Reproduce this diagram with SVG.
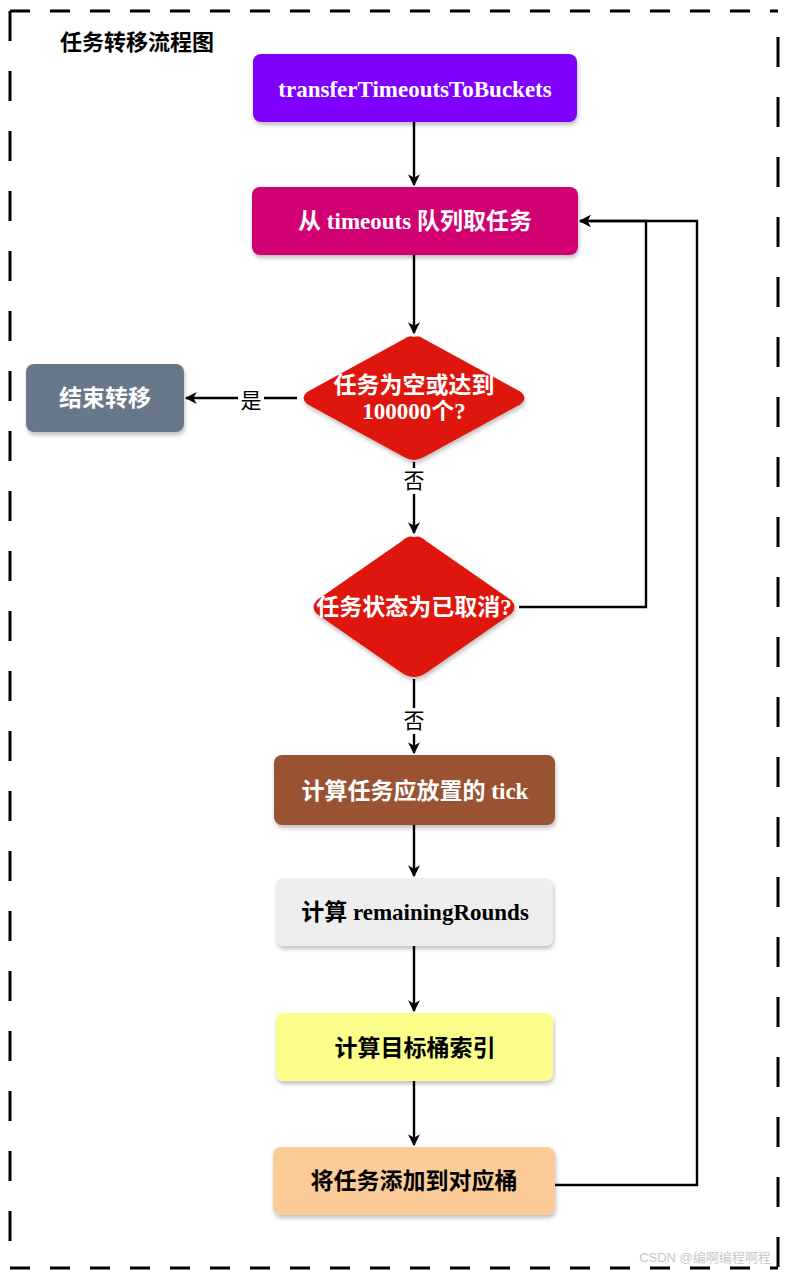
<svg xmlns="http://www.w3.org/2000/svg" width="794" height="1274" viewBox="0 0 794 1274">
<defs>
<filter id="sh" x="-10%" y="-10%" width="130%" height="140%">
<feDropShadow dx="1" dy="3" stdDeviation="2" flood-color="#000" flood-opacity="0.25"/>
</filter>
<marker id="ah" viewBox="0 0 10 10" refX="9" refY="5" markerWidth="12" markerHeight="12" markerUnits="userSpaceOnUse" orient="auto">
<path d="M0,0 L10,5 L0,10 L3,5 Z" fill="#000"/>
</marker>
</defs>
<style>
.t{font-family:"Liberation Serif","Noto Sans CJK SC",serif;font-weight:bold;font-size:23px;text-anchor:middle;dominant-baseline:central}
.w{fill:#fff}
.k{fill:#000}
.c{fill:none;stroke:#000;stroke-width:2.4}
.lbl{font-family:"Liberation Serif","Noto Sans CJK SC",serif;font-size:21px;text-anchor:middle;dominant-baseline:central;fill:#000}
.b{stroke:#000;stroke-width:3;fill:none}
</style>
<rect width="794" height="1274" fill="#fff"/>
<g id="border">
<line class="b" x1="10" y1="11" x2="778" y2="11" stroke-dasharray="20 20"/>
<line class="b" x1="10" y1="1268" x2="778" y2="1268" stroke-dasharray="20 20"/>
<line class="b" x1="10" y1="11" x2="10" y2="1268" stroke-dasharray="30 30"/>
<line class="b" x1="778" y1="37" x2="778" y2="1268" stroke-dasharray="30 30"/>
</g>
<text x="60" y="42" font-family="Liberation Serif,'Noto Sans CJK SC',serif" font-weight="bold" font-size="22" dominant-baseline="central">任务转移流程图</text>
<g id="connectors">
<line class="c" x1="414" y1="122" x2="414" y2="185" marker-end="url(#ah)"/>
<line class="c" x1="414" y1="255" x2="414" y2="333" marker-end="url(#ah)"/>
<line class="c" x1="297" y1="398" x2="186" y2="398" marker-end="url(#ah)"/>
<rect x="238" y="386" width="26" height="26" fill="#fff"/>
<text class="lbl" x="251" y="401">是</text>
<line class="c" x1="414" y1="462" x2="414" y2="533" marker-end="url(#ah)"/>
<rect x="401" y="468" width="26" height="26" fill="#fff"/>
<text class="lbl" x="414" y="481">否</text>
<polyline class="c" points="519,607 646,607 646,221 580,221" marker-end="url(#ah)"/>
<line class="c" x1="414" y1="679" x2="414" y2="753" marker-end="url(#ah)"/>
<rect x="401" y="708" width="26" height="26" fill="#fff"/>
<text class="lbl" x="414" y="721">否</text>
<line class="c" x1="414" y1="825" x2="414" y2="876" marker-end="url(#ah)"/>
<line class="c" x1="414" y1="946" x2="414" y2="1011" marker-end="url(#ah)"/>
<line class="c" x1="414" y1="1081" x2="414" y2="1145" marker-end="url(#ah)"/>
<polyline class="c" points="555,1185 697,1185 697,221 580,221" marker-end="url(#ah)"/>
</g>
<g id="n1">
<rect x="253" y="54" width="324" height="68" rx="8" fill="#7F00FF" filter="url(#sh)"/>
<text class="t w" x="415" y="89">transferTimeoutsToBuckets</text>
</g>
<g id="n2">
<rect x="252" y="187" width="326" height="68" rx="8" fill="#D10073" filter="url(#sh)"/>
<text class="t w" x="415" y="221">从 timeouts 队列取任务</text>
</g>
<g id="d1">
<path d="M414,337 Q419,335 424,339 L521,392 Q528,398 521,404 L424,457 Q414,463 404,457 L307,404 Q300,398 307,392 L404,339 Q409,335 414,337 Z" fill="#DF190B" filter="url(#sh)"/>
<text class="t w" x="414" y="385">任务为空或达到</text>
<text class="t w" x="414" y="411">100000个?</text>
</g>
<g id="end">
<rect x="26" y="364" width="158" height="68" rx="8" fill="#687789" filter="url(#sh)"/>
<text class="t w" x="105" y="398">结束转移</text>
</g>
<g id="d2">
<path d="M414,537 Q420,535 426,541 L511,600 Q518,607 511,614 L426,673 Q414,681 402,673 L317,614 Q310,607 317,600 L402,541 Q408,535 414,537 Z" fill="#DF190B" filter="url(#sh)"/>
<text class="t w" x="414" y="607">任务状态为已取消?</text>
</g>
<g id="n3">
<rect x="274" y="755" width="281" height="70" rx="8" fill="#9A5230" filter="url(#sh)"/>
<text class="t w" x="415" y="791">计算任务应放置的 tick</text>
</g>
<g id="n4">
<rect x="276" y="878" width="277" height="68" rx="8" fill="#EEEEEE" filter="url(#sh)"/>
<text class="t k" x="415" y="912">计算 remainingRounds</text>
</g>
<g id="n5">
<rect x="276" y="1013" width="277" height="68" rx="8" fill="#FAFF8C" filter="url(#sh)"/>
<text class="t k" x="415" y="1048">计算目标桶索引</text>
</g>
<g id="n6">
<rect x="273" y="1147" width="282" height="68" rx="8" fill="#FBCC98" filter="url(#sh)"/>
<text class="t k" x="414" y="1181">将任务添加到对应桶</text>
</g>
<text x="705" y="1262" font-family="Liberation Sans,'Noto Sans CJK SC',sans-serif" font-size="13" fill="#c8c8c8" text-anchor="middle">CSDN @编啊编程啊程</text>
</svg>
